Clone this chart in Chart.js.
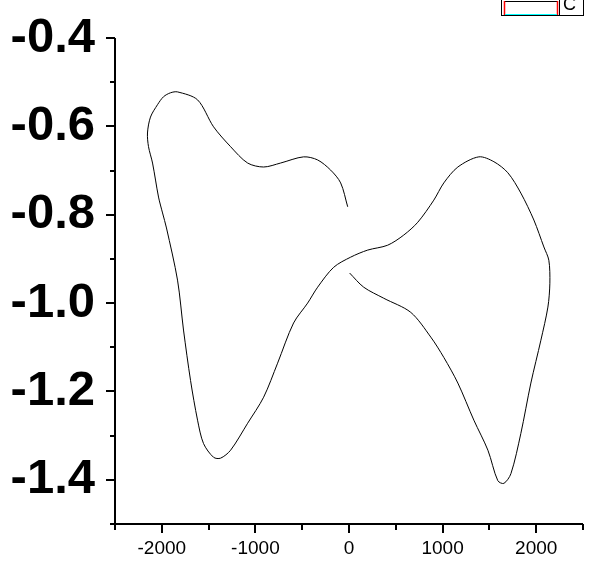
<!DOCTYPE html>
<html>
<head>
<meta charset="utf-8">
<script src="https://cdn.jsdelivr.net/npm/chart.js@4/dist/chart.umd.min.js"></script>
<style>
  body { margin: 0; background: #fff; }
  #wrap { width: 610px; height: 571px; }
</style>
</head>
<body>
<div id="wrap"><canvas id="myChart" width="610" height="571"></canvas></div>
<script>
"use strict";

// Curve, in drawing order
const xValues = [
  7, 157, 371, 660, 874, 1013, 1163, 1334, 1484, 1590, 1655, 1730, 1836, 1943,
  2050, 2125, 2146, 2135, 2082, 1975, 1836, 1697, 1548, 1387, 1163, 1013, 906,
  735, 585, 413, 200, 18, -164, -335, -442, -592, -763, -912, -1083, -1265,
  -1372, -1447, -1554, -1618, -1693, -1768, -1832, -1950, -1992, -2035, -2099,
  -2142, -2153, -2121, -2046, -1982, -1907, -1832, -1618, -1447, -1265, -1083,
  -912, -731, -485, -335, -196, -89, -14,
];
const yValues = [
  -0.932, -0.964, -0.989, -1.021, -1.077, -1.123, -1.181, -1.265, -1.333, -1.402,
  -1.408, -1.386, -1.295, -1.181, -1.084, -1.009, -0.955, -0.903, -0.873, -0.812,
  -0.751, -0.705, -0.68, -0.669, -0.692, -0.728, -0.767, -0.817, -0.846, -0.869,
  -0.88, -0.896, -0.919, -0.964, -1.0, -1.045, -1.136, -1.213, -1.272, -1.333,
  -1.351, -1.349, -1.318, -1.265, -1.175, -1.061, -0.948, -0.83, -0.796, -0.76,
  -0.683, -0.646, -0.615, -0.579, -0.551, -0.533, -0.524, -0.522, -0.54, -0.601,
  -0.646, -0.683, -0.692, -0.683, -0.669, -0.676, -0.699, -0.728, -0.782,
];

// Axis ticks
const xMajorTicks = [-2000, -1000, 0, 1000, 2000];
const xMinorTicks = [-2500, -1500, -500, 500, 1500, 2500];
const yMajorTicks = [-1.4, -1.2, -1.0, -0.8, -0.6, -0.4];
const yMinorTicks = [-1.5, -1.3, -1.1, -0.9, -0.7, -0.5];
const legendLabel = "C";

const points = xValues.map((x, i) => ({ x: x, y: yValues[i] }));

// Axis lines, outward tick marks and the clipped legend box
const axesPlugin = {
  id: "axesPlugin",
  afterDraw(chart) {
    const c = chart.ctx;
    const xs = chart.scales.x;
    const ys = chart.scales.y;
    const left = chart.chartArea.left;
    const bottom = chart.chartArea.bottom;
    c.save();
    c.strokeStyle = "#000";
    c.lineWidth = 2;
    c.beginPath();
    c.moveTo(left, ys.getPixelForValue(-0.4));
    c.lineTo(left, bottom);
    c.moveTo(left - 5, bottom);
    c.lineTo(xs.getPixelForValue(2500), bottom);
    xMajorTicks.forEach((v) => {
      const p = Math.round(xs.getPixelForValue(v));
      c.moveTo(p, bottom);
      c.lineTo(p, bottom + 9);
    });
    xMinorTicks.forEach((v) => {
      const p = Math.round(xs.getPixelForValue(v));
      c.moveTo(p, bottom);
      c.lineTo(p, bottom + 6);
    });
    yMajorTicks.forEach((v) => {
      const p = Math.round(ys.getPixelForValue(v));
      c.moveTo(left, p);
      c.lineTo(left - 9, p);
    });
    yMinorTicks.forEach((v) => {
      const p = Math.round(ys.getPixelForValue(v));
      c.moveTo(left, p);
      c.lineTo(left - 5, p);
    });
    c.stroke();

    // legend (mostly off the top edge)
    c.lineWidth = 1;
    c.strokeStyle = "#000";
    c.strokeRect(501.5, -5.5, 82, 21);
    c.beginPath();
    c.moveTo(559.5, -5);
    c.lineTo(559.5, 15);
    c.moveTo(504, 1.5);
    c.lineTo(558, 1.5);
    c.stroke();
    c.strokeStyle = "#ff0000";
    c.lineWidth = 1.5;
    c.beginPath();
    c.moveTo(504.5, 1);
    c.lineTo(504.5, 15);
    c.moveTo(557.5, 1);
    c.lineTo(557.5, 15);
    c.stroke();
    c.strokeStyle = "#00ffff";
    c.lineWidth = 1;
    c.beginPath();
    c.moveTo(505, 14.5);
    c.lineTo(557, 14.5);
    c.stroke();
    c.fillStyle = "#000";
    c.font = "18px 'Liberation Sans', Arial, sans-serif";
    c.textAlign = "left";
    c.textBaseline = "alphabetic";
    c.fillText(legendLabel, 563, 10);
    c.restore();
  },
};

const ctx = document.getElementById("myChart").getContext("2d");

const myChart = new Chart(ctx, {
  type: "scatter",
  data: {
    datasets: [
      {
        label: legendLabel,
        data: points,
        showLine: true,
        borderColor: "#000",
        borderWidth: 1,
        pointRadius: 0,
        tension: 0.3,
      },
    ],
  },
  options: {
    responsive: false,
    animation: false,
    layout: {
      padding: { left: 0, right: 27, top: 38, bottom: 0 },
    },
    scales: {
      x: {
        type: "linear",
        min: -2500,
        max: 2500,
        afterBuildTicks: (scale) => {
          scale.ticks = xMajorTicks.map((v) => ({ value: v }));
        },
        afterFit: (scale) => {
          scale.height = 47;
          scale.paddingLeft = 0;
          scale.paddingRight = 0;
        },
        grid: { display: false, drawTicks: false },
        border: { display: false },
        ticks: {
          padding: 13,
          color: "#000",
          maxRotation: 0,
          font: { family: "'Liberation Sans', Arial, sans-serif", size: 19 },
          callback: (v) => String(v),
        },
      },
      y: {
        type: "linear",
        min: -1.5,
        max: -0.4,
        afterBuildTicks: (scale) => {
          scale.ticks = yMajorTicks.map((v) => ({ value: v }));
        },
        afterFit: (scale) => {
          scale.width = 115;
          scale.paddingTop = 0;
          scale.paddingBottom = 0;
        },
        grid: { display: false, drawTicks: false },
        border: { display: false },
        ticks: {
          padding: 20,
          color: "#000",
          font: {
            family: "'Liberation Sans', Arial, sans-serif",
            size: 49,
            weight: "bold",
          },
          callback: (v) => Number(v).toFixed(1),
        },
      },
    },
    plugins: {
      legend: { display: false },
      tooltip: { enabled: false },
    },
  },
  plugins: [axesPlugin],
});
</script>
</body>
</html>
